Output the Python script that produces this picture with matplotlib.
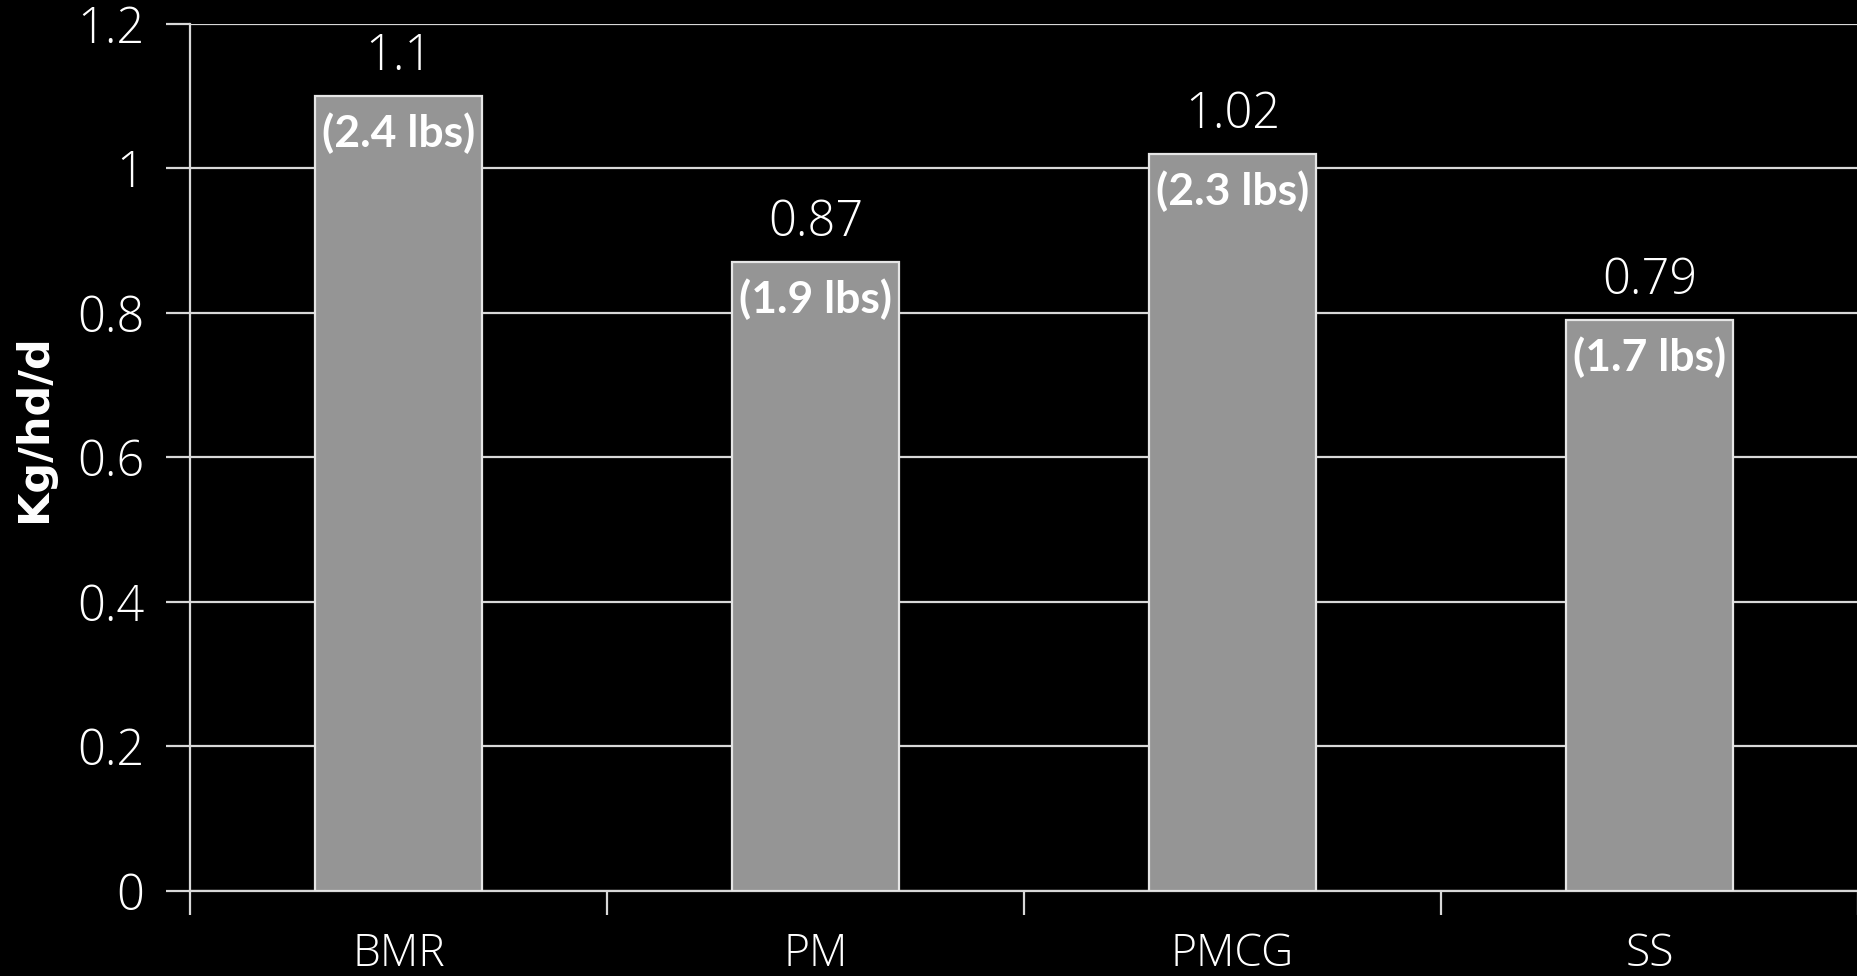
import matplotlib
matplotlib.use("Agg")
import matplotlib.pyplot as plt
import numpy as np

categories = ["BMR", "PM", "PMCG", "SS"]
kg_per_day = [1.1, 0.87, 1.02, 0.79]
lbs_labels = ["(2.4 lbs)", "(1.9 lbs)", "(2.3 lbs)", "(1.7 lbs)"]
y_ticks = [0, 0.2, 0.4, 0.6, 0.8, 1.0, 1.2]
y_tick_labels = ["0", "0.2", "0.4", "0.6", "0.8", "1", "1.2"]

W, H = 1858, 976
fig = plt.figure(figsize=(W / 100, H / 100), dpi=100, facecolor="black")
ax = fig.add_axes([190 / W, 1 - 891 / H, 1 - 190 / W, (891 - 23.7) / H])
ax.set_facecolor("black")

light_font = ["Open Sans", "DejaVu Sans"]
bold_font = ["Lato", "DejaVu Sans"]

grid_c = "#d8d8d8"
x = np.arange(len(categories))
ax.set_xlim(-0.5, len(categories) - 0.5)
ax.set_ylim(0, 1.2)

# horizontal gridlines
ax.set_yticks(y_ticks)
ax.set_yticklabels(y_tick_labels, fontfamily=light_font, fontweight="light",
                   fontsize=35, color="white")
ax.yaxis.grid(True, color=grid_c, linewidth=1.6)
ax.set_axisbelow(True)
ax.tick_params(axis="y", length=17, width=1.6, color=grid_c, pad=16)

bars = ax.bar(x, kg_per_day, width=0.4, color="#959595",
              edgecolor="#e6e6e6", linewidth=1.6, zorder=3)

# category boundary ticks below the axis
ax.set_xticks(x)
ax.set_xticklabels(categories, fontfamily=light_font, fontweight="light",
                   fontsize=32, color="white")
ax.set_xticks(np.arange(-0.5, len(categories) + 0.5, 1), minor=True)
ax.tick_params(axis="x", which="major", length=0, pad=30)
ax.tick_params(axis="x", which="minor", length=17, width=1.6, color=grid_c)

for s in ["top", "right"]:
    ax.spines[s].set_visible(False)
for s in ["left", "bottom"]:
    ax.spines[s].set_color(grid_c)
    ax.spines[s].set_linewidth(1.6)

for xi, v, lb in zip(x, kg_per_day, lbs_labels):
    ax.annotate(f"{v:g}", (xi, v), xytext=(0, 28), textcoords="offset points",
                ha="center", va="center", fontsize=35, color="white",
                fontfamily=light_font, fontweight="light", zorder=5)
    ax.annotate(lb, (xi, v), xytext=(0, -27), textcoords="offset points",
                ha="center", va="center", fontsize=32, color="white",
                fontfamily=bold_font, fontweight="bold", zorder=5)

# y-axis title placed in figure pixels, left of the tick labels
fig.text(34 / W, 1 - 428 / H, "Kg/hd/d", rotation=90, ha="center",
         va="center", fontfamily="DejaVu Sans", fontweight="bold",
         fontsize=31, color="white")

fig.savefig("out.png", dpi=100, facecolor="black")
